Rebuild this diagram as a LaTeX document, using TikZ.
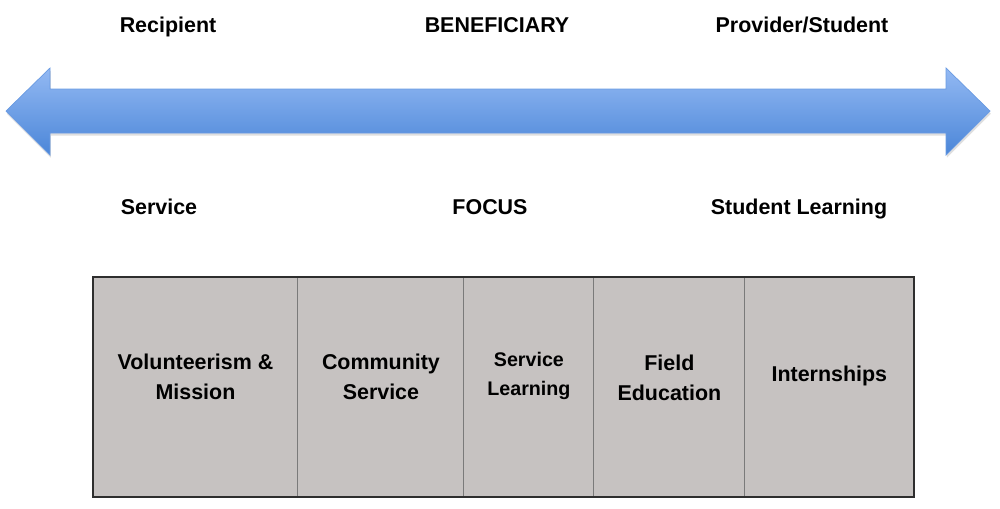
\documentclass[tikz,border=0pt]{standalone}
\usepackage{fontspec}
\setmainfont{Liberation Sans}
\usetikzlibrary{positioning,shadows}

\definecolor{arrowtop}{HTML}{93B9F3}
\definecolor{arrowbottom}{HTML}{4B86D8}
\definecolor{arrowline}{HTML}{6A9BE2}
\definecolor{cellgrey}{HTML}{C6C2C1}
\definecolor{cellline}{HTML}{7A7A7A}
\definecolor{frameline}{HTML}{2E2E2E}

\tikzstyle{heading} = [anchor=base, inner sep=0pt, font=\fontsize{12.2}{17}\selectfont\bfseries]
\tikzstyle{cell} = [rectangle, draw=cellline, fill=cellgrey, line width=0.6pt,
    minimum height=4.4cm, outer sep=0pt, inner sep=0pt]
\tikzstyle{celltext} = [align=center, inner sep=0pt, font=\fontsize{12.2}{17}\selectfont\bfseries]

\begin{document}
\begin{tikzpicture}[x=0.02cm, y=-0.02cm]
	\useasboundingbox (0,0) rectangle (1000,508);

	% Double arrow
	\path [draw=arrowline, line width=0.4pt, top color=arrowtop, bottom color=arrowbottom,
	    drop shadow={shadow xshift=0.5pt, shadow yshift=-1.5pt, opacity=0.25}]
	  (6,111) -- (50,68) -- (50,89) -- (946,89) -- (946,68) -- (990,111)
	  -- (946,155) -- (946,133) -- (50,133) -- (50,155) -- cycle;

	% Labels
	\node [heading] (Recipient) at (168,32) {Recipient};
	\node [heading] (Beneficiary) at (497,32) {BENEFICIARY};
	\node [heading] (Provider) at (802,32) {Provider/Student};
	\node [heading] (Service) at (159,214) {Service};
	\node [heading] (Focus) at (490,214) {FOCUS};
	\node [heading] (StudentLearning) at (799,214) {Student Learning};

	% Cells
	\node [cell, minimum width=4.1cm, anchor=north west] (Volunteerism) at (93,277) {};
	\node [cell, minimum width=3.32cm, right=0pt of Volunteerism] (Community) {};
	\node [cell, minimum width=2.6cm, right=0pt of Community] (ServiceLearning) {};
	\node [cell, minimum width=3.02cm, right=0pt of ServiceLearning] (Field) {};
	\node [cell, minimum width=3.38cm, right=0pt of Field] (Internships) {};
	\draw [frameline, line width=0.9pt] (Volunteerism.north west) rectangle (Internships.south east);

	% Cell texts
	\node [celltext] at ([yshift=0.2cm]Volunteerism.center) {Volunteerism \&\\Mission};
	\node [celltext] at ([yshift=0.2cm]Community.center) {Community\\Service};
	\node [celltext, font=\fontsize{11.2}{17}\selectfont\bfseries] at ([yshift=0.22cm]ServiceLearning.center) {Service\\Learning};
	\node [celltext] at ([yshift=0.18cm]Field.center) {Field\\Education};
	\node [celltext] at ([yshift=0.22cm]Internships.center) {Internships};

\end{tikzpicture}
\end{document}
